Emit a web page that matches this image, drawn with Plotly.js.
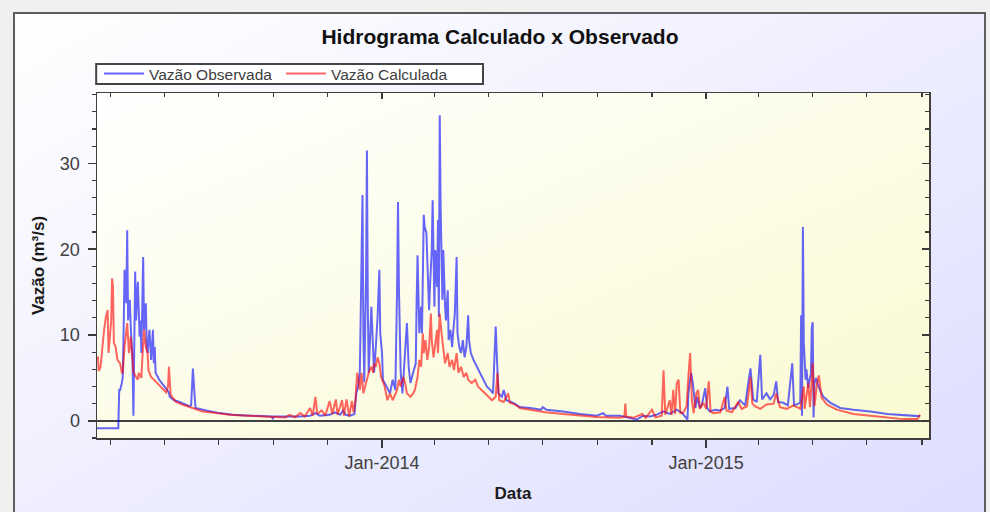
<!DOCTYPE html>
<html>
<head>
<meta charset="utf-8">
<script src="https://cdn.plot.ly/plotly-3.0.1.min.js"></script>
<style>
  html, body { margin:0; padding:0; width:990px; height:512px; overflow:hidden; background:#f0f0f0; }
  #frame { position:absolute; left:13px; top:12px; width:969px; height:540px;
           border:2px solid #5c5c5c; background:linear-gradient(to bottom right, #ffffff, rgb(220,220,255)); }
  #chart { position:absolute; left:0; top:0; width:990px; height:512px; }
</style>
</head>
<body>
<div id="frame"></div>
<div id="chart"></div>
<script>
// Days relative to 2014-01-01 and flows (m3/s)
const obsDay = [-321,-297,-296,-295,-293,-292,-291,-290,-288,-287,-286,-284,-283,-281,-280,-279,-278,-277,-275,-273,-272,-271,-270,-269,-268,-266,-265,-264,-262,-260,-258,-257,-256,-255,-251,-247,-243,-240,-239,-234,-228,-223,-217,-215,-214,-213,-211,-210,-198,-183,-168,-153,-137,-124,-123,-122,-104,-92,-81,-75,-70,-59,-53,-47,-44,-41,-36,-31,-29,-27,-25,-24,-22,-21,-20,-18,-17,-16,-15,-12,-11,-9,-7,-5,-3,-2,0,1,5,9,12,15,17,18,19,21,23,26,28,30,32,35,38,39,40,42,44,45,47,48,50,51,53,54,56,57,58,59,60,62,63,64,65,66,68,69,71,72,74,75,77,79,80,82,84,85,87,89,91,93,95,97,98,100,103,107,110,114,118,122,125,128,129,131,135,137,140,148,155,167,179,181,185,204,223,242,249,252,268,279,287,294,302,309,317,324,332,338,344,345,348,350,353,355,358,360,364,366,369,375,381,386,389,391,398,403,409,413,415,418,422,426,428,433,437,441,444,446,452,457,462,464,469,471,472,473,474,475,476,477,478,479,480,481,483,484,485,486,487,489,491,494,497,505,516,531,550,569,587,604,606];
const obsQ = [-0.85,-0.85,3.6,3.6,4.4,5.1,10.6,17.6,13.7,22.2,11.7,14.1,11.0,7.1,0.6,7.9,17.4,11.7,16.2,9.8,11.7,7.9,14.5,19.1,10.6,13.7,8.6,7.9,10.6,7.1,10.6,6.7,8.6,5.6,4.8,4.2,3.6,3.3,2.8,2.4,2.2,2.0,1.7,1.8,3.6,6.1,2.8,1.5,1.2,0.9,0.7,0.6,0.55,0.5,0.2,0.5,0.45,0.5,0.6,0.9,0.6,0.7,1.0,0.7,1.2,0.7,0.6,0.8,3.2,4.0,5.6,14.1,26.3,10.2,4.5,16.8,31.5,13.3,5.6,13.3,10.2,5.6,8.6,12.1,17.6,10.2,7.9,4.8,4.0,3.2,4.8,3.6,15.6,25.5,15.6,5.6,3.2,7.9,11.4,6.3,4.4,5.6,6.7,14.1,19.3,10.2,13.3,10.2,24.0,22.6,21.9,18.7,12.9,15.6,19.9,25.7,18.7,13.3,19.9,15.6,23.4,12.1,35.6,24.9,14.1,19.9,13.3,11.7,15.2,9.4,10.6,8.6,10.2,12.5,19.1,10.2,8.6,7.9,9.4,7.4,8.6,12.3,9.4,7.9,7.1,6.3,5.6,4.8,4.0,3.6,3.2,11.0,7.9,3.2,2.8,3.6,2.4,2.1,1.6,1.5,1.3,1.6,1.3,1.1,0.8,0.6,0.9,0.6,0.6,0.35,0.15,0.6,0.5,0.7,1.1,0.8,1.3,0.9,0.15,3.2,5.6,4.4,1.5,2.8,1.5,1.8,3.8,1.5,1.1,1.3,1.2,1.5,4.0,1.4,1.5,2.4,1.8,4.8,6.1,2.5,2.2,7.7,2.5,3.2,2.5,3.0,4.6,2.2,2.1,1.8,6.7,1.8,2.0,2.2,12.3,0.6,22.6,9.1,5.5,4.8,6.0,4.5,3.8,4.5,5.5,10.8,11.5,0.4,4.4,5.0,4.2,3.4,2.8,2.1,1.5,1.3,1.1,0.8,0.65,0.55,0.6];

const calDay = [-320,-319,-317,-315,-313,-311,-309,-308,-305,-304,-303,-302,-300,-298,-295,-293,-292,-290,-288,-287,-285,-283,-281,-280,-277,-275,-274,-271,-270,-268,-266,-264,-263,-260,-257,-253,-247,-243,-241,-240,-238,-232,-225,-213,-202,-187,-172,-153,-137,-121,-109,-104,-98,-92,-87,-81,-78,-75,-73,-68,-64,-59,-56,-52,-50,-45,-43,-40,-37,-34,-32,-30,-28,-27,-25,-23,-21,-19,-17,-15,-12,-10,-9,-7,-5,-3,-1,1,3,6,9,12,15,17,19,21,24,26,28,32,35,37,40,42,44,46,47,49,51,53,55,56,58,60,62,63,65,67,69,71,74,76,79,81,84,86,89,92,95,97,101,105,108,112,116,120,124,128,130,132,137,142,144,150,155,167,184,204,223,242,257,268,273,274,275,283,293,297,304,308,315,317,319,324,326,328,330,332,334,336,339,343,345,347,349,351,354,356,358,362,365,368,370,373,381,386,388,394,401,405,411,415,417,420,426,433,441,444,448,456,463,471,475,476,480,482,485,487,490,492,495,501,512,531,550,569,587,603,606];
const calQ = [7.5,5.8,6.3,9.0,10.6,12.1,12.9,7.9,11.7,16.6,15.6,9.1,8.6,7.1,6.7,5.6,5.6,8.6,11.0,11.4,7.9,9.8,7.1,5.7,5.1,4.8,5.6,5.0,7.1,10.6,8.6,7.9,5.9,5.1,4.8,4.4,3.8,3.3,4.0,6.3,3.0,2.2,1.9,1.5,1.1,0.9,0.7,0.6,0.55,0.45,0.4,0.7,0.4,0.9,0.5,1.5,0.6,2.8,0.8,1.2,0.6,2.3,0.8,2.5,0.7,2.4,0.6,2.5,0.5,2.3,1.0,2.4,5.6,5.1,3.6,5.6,3.2,4.0,4.8,5.6,6.3,5.6,6.7,6.3,7.4,6.7,5.1,4.4,4.0,2.4,3.2,2.4,3.2,3.6,4.8,4.0,5.1,4.4,3.2,2.8,3.2,3.6,5.1,7.1,6.3,10.2,7.9,9.4,7.1,8.6,12.5,9.4,7.4,9.1,10.6,7.9,12.5,10.2,8.3,6.7,7.9,6.3,7.1,5.9,7.9,5.6,6.3,5.1,5.6,4.8,4.4,4.8,4.0,3.6,3.2,2.8,2.4,2.8,5.6,2.4,2.2,3.2,2.1,1.9,1.5,1.3,1.0,0.8,0.6,0.45,0.4,0.35,0.5,2.0,0.5,0.35,0.8,0.35,1.3,0.4,0.6,5.9,0.7,2.4,0.7,3.6,0.8,4.4,4.8,0.9,0.9,1.7,5.1,7.9,2.4,0.9,3.2,3.6,1.4,2.1,1.4,4.6,1.1,0.9,1.0,2.8,1.2,1.0,2.2,1.4,1.7,5.1,2.0,1.7,1.4,1.9,2.0,3.2,1.6,1.4,1.8,1.4,4.0,1.4,4.4,1.6,6.7,1.7,4.4,5.3,2.7,1.9,1.3,0.8,0.6,0.4,0.2,0.2,0.7];

const seriesNames = ['Vazão Observada', 'Vazão Calculada'];
const yTickVals = [0, 10, 20, 30];

const BASE = Date.UTC(2014, 0, 1);
function toDate(d) { return new Date(BASE + d * 86400000).toISOString().slice(0, 10); }

const FONT = '"Liberation Sans", Arial, sans-serif';
const xRange = ['2013-02-14', '2015-09-09'];
const yRange = [-2, 38.2];

const gradSvg = "<svg xmlns='http://www.w3.org/2000/svg' width='100' height='100' preserveAspectRatio='none'>" +
  "<defs><linearGradient id='g' x1='0' y1='0' x2='1' y2='1'><stop offset='0' stop-color='#ffffff'/>" +
  "<stop offset='1' stop-color='#fafad2'/></linearGradient></defs><rect width='100' height='100' fill='url(#g)'/></svg>";

const traces = [
  { x: obsDay.map(toDate), y: obsQ, name: seriesNames[0], type: 'scatter', mode: 'lines',
    line: { color: 'rgba(0,0,255,0.6)', width: 2 } },
  { x: calDay.map(toDate), y: calQ, name: seriesNames[1], type: 'scatter', mode: 'lines',
    line: { color: 'rgba(255,0,0,0.6)', width: 2 } },
  { x: [], y: [], xaxis: 'x2', yaxis: 'y2', showlegend: false, hoverinfo: 'skip' }
];

const tickCol = '#3a3a3a';
const layout = {
  width: 990, height: 512,
  paper_bgcolor: 'rgba(0,0,0,0)', plot_bgcolor: 'rgba(0,0,0,0)',
  margin: { l: 97, r: 61, t: 93, b: 74 },
  font: { family: FONT, color: '#404040' },
  title: { text: 'Hidrograma Calculado x Observado', xref: 'container', x: 0.505, xanchor: 'center',
           yref: 'container', y: 1 - 37/512, yanchor: 'middle',
           font: { family: FONT, size: 21, weight: 'bold', color: '#111111' } },
  showlegend: true,
  legend: { orientation: 'h', x: 2 / 832, xanchor: 'left', y: (438 - 74) / 345, yanchor: 'middle',
            bgcolor: 'rgba(0,0,0,0)', borderwidth: 0,
            font: { family: FONT, size: 15.5, color: '#404040' }, entrywidth: 127, itemwidth: 40 },
  shapes: [{ type: 'rect', xref: 'paper', yref: 'paper', layer: 'above',
             x0: -0.001, x1: (483 - 97) / 832, y0: (438 - 84) / 345, y1: (438 - 64) / 345,
             fillcolor: '#ffffff', line: { color: '#444444', width: 2 } }],
  images: [{ source: 'data:image/svg+xml;charset=utf-8,' + encodeURIComponent(gradSvg),
             xref: 'paper', yref: 'paper', x: 0, y: 1, sizex: 1, sizey: 1,
             xanchor: 'left', yanchor: 'top', sizing: 'stretch', layer: 'below' }],
  xaxis: {
    type: 'date', range: xRange, tickmode: 'linear', tick0: '2014-01-01', dtick: 'M12',
    tickformat: '%b-%Y', ticks: 'outside', ticklen: 8, tickwidth: 1.5, tickcolor: tickCol,
    showline: true, linecolor: '#404040', linewidth: 1.5, showgrid: false, zeroline: false,
    tickfont: { family: FONT, size: 18, color: '#404040' },
    minor: { tick0: '2013-01-01', dtick: 'M2', ticks: 'outside', ticklen: 5, tickwidth: 1.2, tickcolor: tickCol, showgrid: false },
    title: { text: 'Data', standoff: 15, font: { family: FONT, size: 17, weight: 'bold', color: '#1a1a1a' } }
  },
  xaxis2: {
    type: 'date', range: xRange, overlaying: 'x', side: 'top', tickmode: 'linear', tick0: '2014-01-01', dtick: 'M12',
    ticks: 'inside', ticklen: 6, tickwidth: 1.5, tickcolor: tickCol, showticklabels: false,
    showline: true, linecolor: '#404040', linewidth: 1.5, showgrid: false, zeroline: false,
    minor: { tick0: '2013-01-01', dtick: 'M2', ticks: 'inside', ticklen: 4, tickwidth: 1.2, tickcolor: tickCol, showgrid: false }
  },
  yaxis: {
    range: yRange, tickmode: 'array', tickvals: yTickVals, ticks: 'outside', ticklen: 8, tickwidth: 1.5,
    tickcolor: tickCol, showline: true, linecolor: '#404040', linewidth: 1.5, showgrid: false,
    zeroline: true, zerolinecolor: '#404040', zerolinewidth: 1.5, ticklabelstandoff: 4,
    tickfont: { family: FONT, size: 18, color: '#404040' },
    minor: { tick0: 0, dtick: 2, ticks: 'outside', ticklen: 4, tickwidth: 1.2, tickcolor: tickCol, showgrid: false },
    title: { text: 'Vazão (m³/s)', standoff: 11, font: { family: FONT, size: 17, weight: 'bold', color: '#1a1a1a' } }
  },
  yaxis2: {
    range: yRange, overlaying: 'y', side: 'right', tickmode: 'array', tickvals: yTickVals,
    ticks: 'inside', ticklen: 7, tickwidth: 1.5, tickcolor: tickCol, showticklabels: false,
    showline: true, linecolor: '#404040', linewidth: 1.5, showgrid: false, zeroline: false,
    minor: { tick0: 0, dtick: 2, ticks: 'inside', ticklen: 4, tickwidth: 1.2, tickcolor: tickCol, showgrid: false }
  }
};

Plotly.newPlot('chart', traces, layout, { staticPlot: true, displayModeBar: false });
</script>
</body>
</html>
